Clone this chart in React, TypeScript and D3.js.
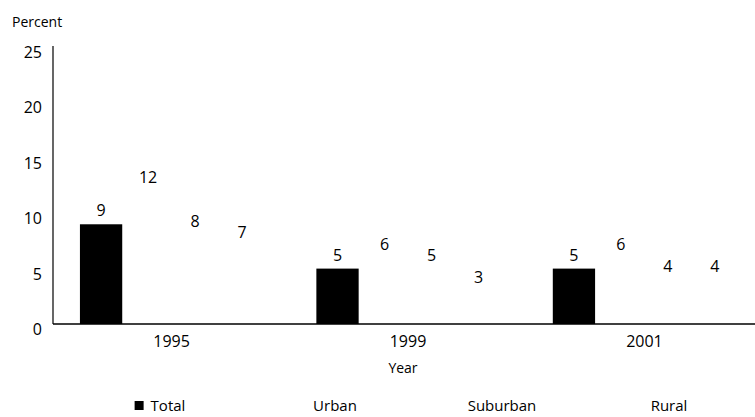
import React, { useEffect, useRef } from 'react';
import * as d3 from 'd3';

const years = ['1995', '1999', '2001'];
const seriesNames = ['Total', 'Urban', 'Suburban', 'Rural'];
const totalValues = [9, 5, 5];
const urbanValues = [12, 6, 6];
const suburbanValues = [8, 5, 4];
const ruralValues = [7, 3, 4];
const yTicks = [0, 5, 10, 15, 20, 25];
const seriesColors = ['#000000', '#ffffff', '#ffffff', '#ffffff'];

const seriesValues = [totalValues, urbanValues, suburbanValues, ruralValues];

const width = 755;
const height = 417;
const font = '"Open Sans", "DejaVu Sans", sans-serif';

const BarChart: React.FC = () => {
  const svgRef = useRef<SVGSVGElement>(null);

  useEffect(() => {
    if (!svgRef.current) return;
    const svg = d3.select(svgRef.current);
    svg.selectAll('*').remove();

    const margin = { top: 47, left: 53, bottom: 324 };

    const x0 = d3
      .scaleBand<string>()
      .domain(years)
      .range([margin.left, 763])
      .paddingInner(0.205)
      .paddingOuter(0.104);

    const x1 = d3
      .scaleBand<string>()
      .domain(seriesNames)
      .range([0, x0.bandwidth()])
      .paddingInner(0.1)
      .paddingOuter(0.05);

    const y = d3.scaleLinear().domain([0, 25]).range([margin.bottom, margin.top]);

    const rows = years.map((year, i) => ({
      year,
      values: seriesNames.map((name, s) => ({ name, s, value: seriesValues[s][i] })),
    }));

    // bars
    const groups = svg
      .append('g')
      .selectAll('g')
      .data(rows)
      .join('g')
      .attr('transform', (d) => `translate(${x0(d.year)},0)`);

    groups
      .selectAll('rect')
      .data((d) => d.values)
      .join('rect')
      .attr('x', (d) => x1(d.name) as number)
      .attr('y', (d) => y(d.value))
      .attr('width', x1.bandwidth())
      .attr('height', (d) => y(0) - y(d.value))
      .attr('fill', (d) => seriesColors[d.s]);

    // value labels
    groups
      .selectAll('text')
      .data((d) => d.values)
      .join('text')
      .attr('x', (d) => (x1(d.name) as number) + x1.bandwidth() / 2)
      .attr('y', (d) => y(d.value) - 8)
      .attr('text-anchor', 'middle')
      .attr('font-family', font)
      .attr('font-size', 16)
      .attr('fill', '#000')
      .text((d) => d.value);

    // axes lines
    svg
      .append('line')
      .attr('x1', margin.left)
      .attr('x2', width)
      .attr('y1', y(0))
      .attr('y2', y(0))
      .attr('stroke', '#000')
      .attr('stroke-width', 1.5);

    svg
      .append('line')
      .attr('x1', margin.left)
      .attr('x2', margin.left)
      .attr('y1', y(25) - 1)
      .attr('y2', y(0))
      .attr('stroke', '#000')
      .attr('stroke-width', 1.2);

    // y tick labels
    svg
      .append('g')
      .selectAll('text')
      .data(yTicks)
      .join('text')
      .attr('x', 42)
      .attr('y', (d) => y(d) + 11)
      .attr('text-anchor', 'end')
      .attr('font-family', font)
      .attr('font-size', 16)
      .text((d) => d);

    svg
      .append('text')
      .attr('x', 12)
      .attr('y', 27)
      .attr('font-family', font)
      .attr('font-size', 14)
      .text('Percent');

    // x tick labels
    svg
      .append('g')
      .selectAll('text')
      .data(years)
      .join('text')
      .attr('x', (d) => (x0(d) as number) + x0.bandwidth() / 2)
      .attr('y', y(0) + 23)
      .attr('text-anchor', 'middle')
      .attr('font-family', font)
      .attr('font-size', 16)
      .text((d) => d);

    svg
      .append('text')
      .attr('x', (x0('1999') as number) + x0.bandwidth() / 2 - 5)
      .attr('y', y(0) + 49)
      .attr('text-anchor', 'middle')
      .attr('font-family', font)
      .attr('font-size', 14)
      .text('Year');

    // legend
    const legendX = d3.scalePoint<string>().domain(seriesNames).range([168, 669]);
    const legendY = 411;

    const items = svg
      .append('g')
      .selectAll('g')
      .data(seriesNames)
      .join('g');

    items
      .append('text')
      .attr('x', (d) => legendX(d) as number)
      .attr('y', legendY)
      .attr('text-anchor', 'middle')
      .attr('font-family', font)
      .attr('font-size', 15)
      .text((d) => d);

    items.each(function (d, i) {
      const t = d3.select(this).select<SVGTextElement>('text').node();
      const w = t ? t.getComputedTextLength() : 40;
      d3.select(this)
        .append('rect')
        .attr('x', (legendX(d) as number) - w / 2 - 16)
        .attr('y', legendY - 10)
        .attr('width', 9)
        .attr('height', 9)
        .attr('fill', seriesColors[i]);
    });
  }, []);

  return (
    <svg
      ref={svgRef}
      width={width}
      height={height}
      style={{ position: 'absolute', left: 0, top: 0, background: '#fff' }}
    ></svg>
  );
};

export default function App() {
  return <BarChart />;
}
